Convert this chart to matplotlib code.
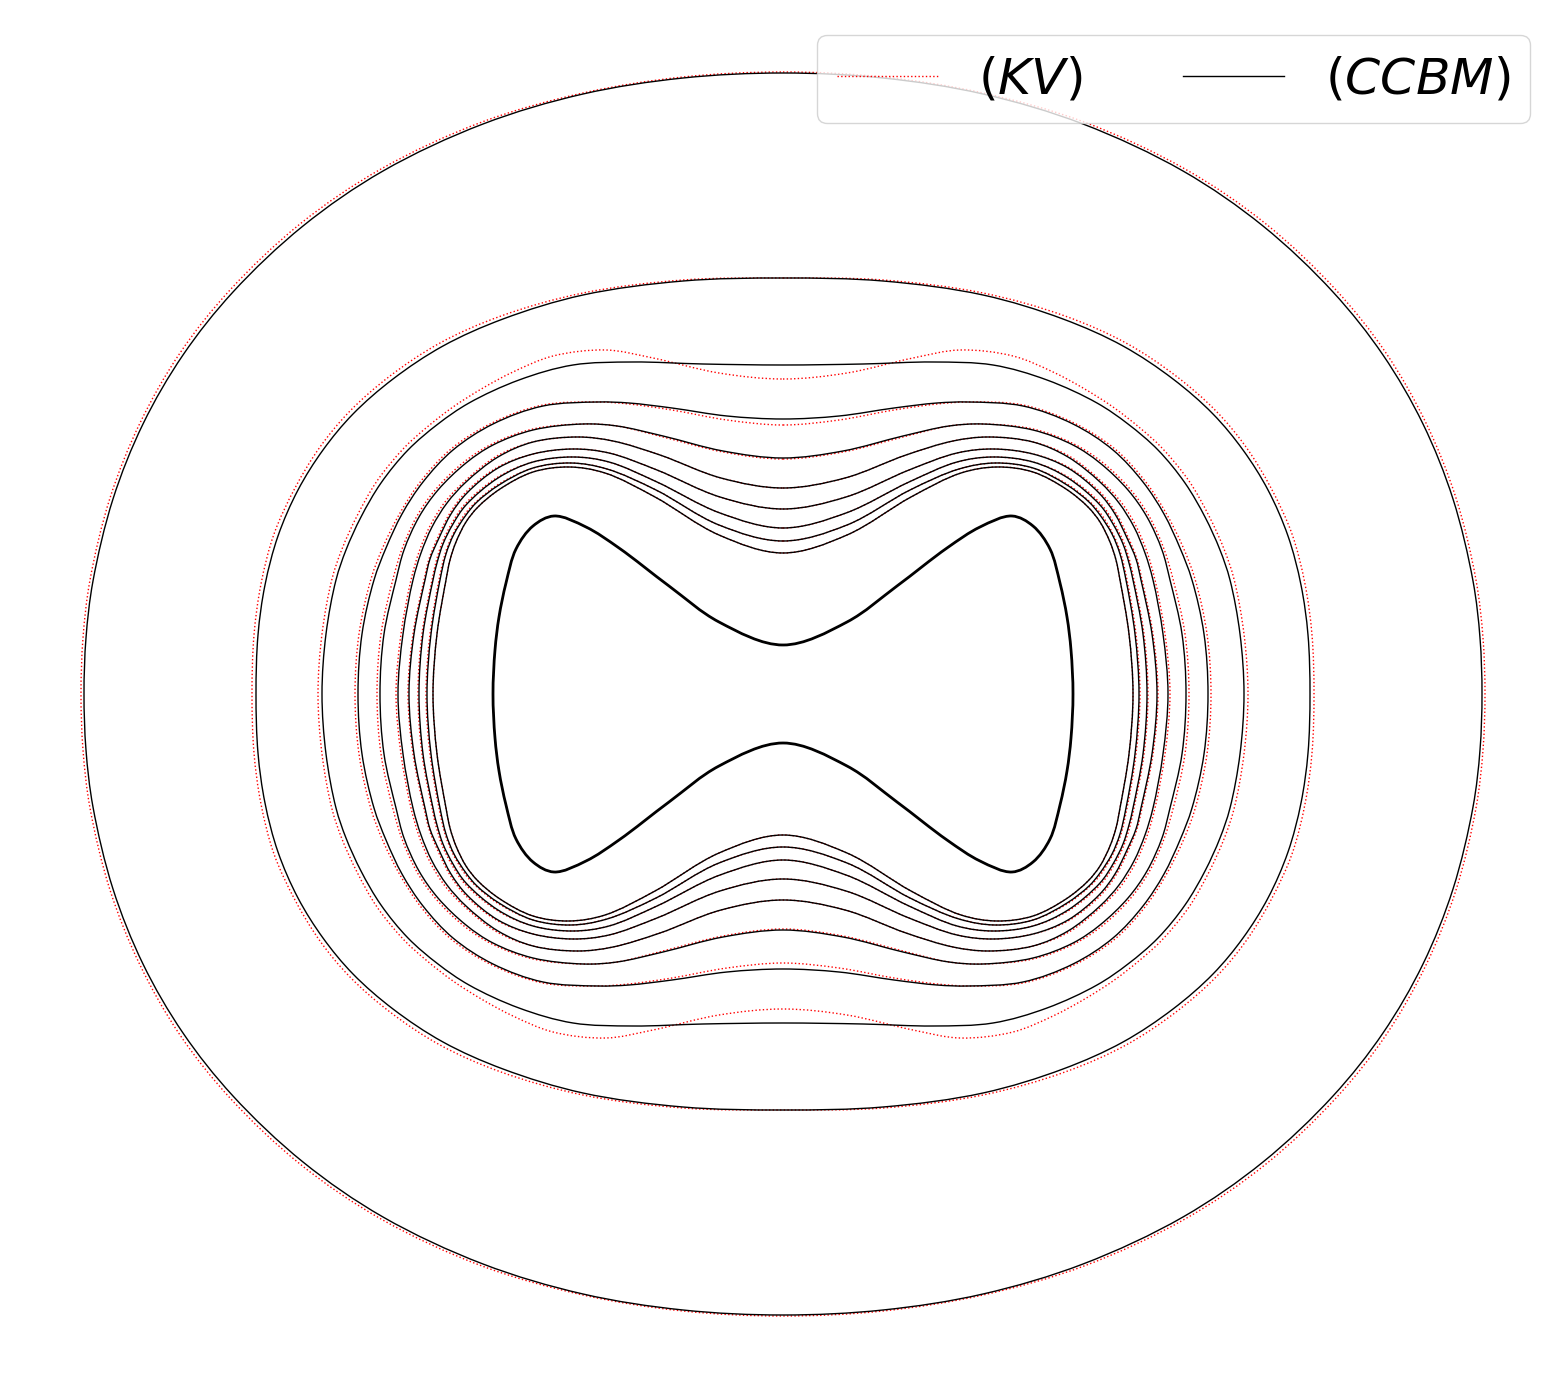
import numpy as np
import matplotlib
matplotlib.use("Agg")
import matplotlib.pyplot as plt
from matplotlib.path import Path
from matplotlib.patches import PathPatch
from matplotlib.lines import Line2D

# ---- data: upper-right quadrant of each closed curve (x, y), from top-centre to right-centre
# curves are symmetric about both axes (pixel-like units, centre at 0,0)

INITIAL = [(0, 49), (64, 72), (114, 108), (164, 146), (197, 167), (229, 178), (250, 168),
           (267, 145), (277, 111), (284, 77), (288, 44), (290, 0)]

CCBM_1 = [(0, 621), (100, 616), (200, 600), (300, 570), (400, 523), (480, 468), (550, 402),
          (600, 339), (640, 270), (670, 195), (690, 113), (697, 56), (699, 0)]
CCBM_2 = [(0, 416), (100, 413), (200, 399), (280, 375), (340, 348), (390, 315), (430, 280),
          (460, 244), (485, 204), (505, 158), (518, 109), (525, 59), (527, 0)]
CCBM_3 = [(0, 329), (80, 330), (150, 332), (210, 329), (264, 314), (314, 291), (345, 270),
          (375, 244), (402, 211), (422, 177), (437, 144), (447, 114), (457, 60), (461, 0)]
CCBM_4 = [(0, 275), (56, 278), (111, 286), (154, 291), (185, 292), (240, 288), (290, 270),
          (330, 244), (360, 212), (381, 180), (397, 146), (409, 114), (421, 60), (425, 0)]
CCBM_5 = [(0, 236), (60, 243), (120, 258), (166, 268), (200, 270), (250, 264), (290, 249),
          (317, 231), (345, 204), (364, 177), (379, 144), (387, 114), (399, 60), (403, 0)]
CCBM_6 = [(0, 206), (62, 216), (123, 239), (170, 253), (205, 257), (250, 252), (285, 237),
          (317, 212), (336, 191), (351, 167), (362, 141), (370, 114), (380, 60), (385, 0)]
CCBM_7 = [(0, 185), (63, 197), (126, 224), (174, 241), (210, 245), (250, 240), (285, 226),
          (316, 201), (332, 180), (344, 156), (353, 135), (358, 114), (369, 60), (374, 0)]
CCBM_8 = [(0, 166), (63, 181), (126, 212), (174, 232), (210, 237), (250, 232), (285, 216),
          (317, 189), (330, 170), (340, 150), (346, 131), (350, 114), (360, 60), (364, 0)]
CCBM_9 = [(0, 153), (64, 169), (127, 204), (176, 225), (212, 231), (250, 226), (284, 209),
          (306, 192), (317, 179), (329, 160), (337, 140), (343, 114), (352, 60), (356, 0)]
CCBM_10 = [(0, 141), (64, 159), (128, 197), (178, 221), (214, 227), (250, 222), (283, 205),
           (305, 187), (317, 172), (327, 152), (333, 134), (337, 114), (346, 60), (350, 0)]

KV_1 = [(0, 622), (100, 617), (200, 601), (301, 572), (402, 525), (483, 470), (553, 404),
        (603, 341), (643, 271), (673, 196), (693, 114), (700, 56), (702, 0)]
KV_2 = [(0, 416), (100, 414), (200, 401), (282, 378), (343, 351), (393, 318), (433, 283),
        (463, 247), (488, 206), (509, 160), (522, 110), (529, 59), (531, 0)]
KV_3 = [(0, 315), (64, 321), (130, 336), (177, 344), (230, 338), (270, 322), (300, 306),
        (330, 287), (357, 266), (379, 246), (406, 213), (426, 178), (441, 145), (451, 115),
        (461, 60), (465, 0)]
KV_4 = [(0, 269), (56, 274), (111, 284), (154, 290), (185, 292), (240, 289), (291, 271),
        (332, 245), (362, 213), (383, 181), (400, 147), (412, 115), (424, 60), (428, 0)]
KV_5 = [(0, 235), (60, 242), (120, 257), (166, 268), (200, 270), (250, 265), (291, 250),
        (319, 232), (347, 205), (366, 178), (381, 145), (390, 115), (402, 60), (406, 0)]
KV_6 = [(0, 206), (62, 216), (123, 239), (170, 253), (205, 257), (250, 252), (286, 238),
        (318, 213), (338, 192), (353, 168), (364, 142), (372, 114), (382, 60), (387, 0)]
KV_7 = [(0, 185), (63, 197), (126, 224), (174, 241), (210, 245), (250, 240), (285, 227),
        (317, 202), (333, 181), (345, 157), (354, 135), (359, 114), (370, 60), (375, 0)]
KV_8 = [(0, 166), (63, 181), (126, 212), (174, 232), (210, 237), (250, 232), (285, 217),
        (318, 190), (331, 171), (341, 151), (347, 132), (351, 114), (361, 60), (365, 0)]
KV_9 = [(0, 153), (64, 169), (127, 204), (176, 225), (212, 231), (250, 226), (284, 210),
        (306, 193), (318, 180), (330, 160), (338, 140), (344, 114), (353, 60), (357, 0)]
KV_10 = [(0, 141), (64, 159), (128, 197), (178, 221), (214, 227), (250, 222), (283, 205),
         (305, 187), (317, 172), (327, 152), (333, 134), (337, 114), (346, 60), (350, 0)]

KV_CURVES = [KV_1, KV_2, KV_3, KV_4, KV_5, KV_6, KV_7, KV_8, KV_9, KV_10, INITIAL]
CCBM_CURVES = [CCBM_1, CCBM_2, CCBM_3, CCBM_4, CCBM_5, CCBM_6, CCBM_7, CCBM_8, CCBM_9, CCBM_10]
LABELS = ["$(KV)$", "$(CCBM)$"]


def full_loop(q):
    q = np.asarray(q, float)
    tr = q
    br = q[-2::-1] * [1, -1]
    bl = q[1:] * [-1, -1]
    tl = q[-2:0:-1] * [-1, 1]
    return np.vstack([tr, br, bl, tl])


def smooth_closed_path(P, alpha=0.5):
    N = len(P)
    verts = [P[0]]
    codes = [Path.MOVETO]
    for i in range(N):
        p0, p1, p2, p3 = P[i - 1], P[i], P[(i + 1) % N], P[(i + 2) % N]
        d1 = max(np.linalg.norm(p1 - p0) ** alpha, 1e-9)
        d2 = max(np.linalg.norm(p2 - p1) ** alpha, 1e-9)
        d3 = max(np.linalg.norm(p3 - p2) ** alpha, 1e-9)
        b1 = (d1 ** 2 * p2 - d2 ** 2 * p0 + (2 * d1 ** 2 + 3 * d1 * d2 + d2 ** 2) * p1) / (3 * d1 * (d1 + d2))
        b2 = (d3 ** 2 * p1 - d2 ** 2 * p3 + (2 * d3 ** 2 + 3 * d3 * d2 + d2 ** 2) * p2) / (3 * d3 * (d3 + d2))
        verts += [b1, b2, p2]
        codes += [Path.CURVE4] * 3
    return Path(np.array(verts), codes)


W, H = 1566, 1389
fig = plt.figure(figsize=(W / 100, H / 100), dpi=100)
ax = fig.add_axes([0, 0, 1, 1])
cx, cy = 783, 694
ax.set_xlim(-cx, W - cx)
ax.set_ylim(cy - H, cy)
ax.axis("off")

for q in KV_CURVES:
    P = full_loop(q)
    ax.add_patch(PathPatch(smooth_closed_path(P), fill=False, edgecolor="red",
                           linestyle=":", linewidth=1.0, zorder=2))

for q in CCBM_CURVES:
    P = full_loop(q)
    ax.add_patch(PathPatch(smooth_closed_path(P), fill=False, edgecolor="black",
                           linestyle="-", linewidth=1.0, zorder=3))

P = full_loop(INITIAL)
ax.add_patch(PathPatch(smooth_closed_path(P), fill=False, edgecolor="black",
                       linestyle="-", linewidth=2.0, zorder=4))

handles = [Line2D([], [], color="red", linestyle=":", linewidth=1.0),
           Line2D([], [], color="black", linestyle="-", linewidth=1.0)]
ax.legend(handles, LABELS, loc="upper right", ncol=2, fontsize=36.3,
          bbox_to_anchor=(1530 / W, 1 - 35 / H), bbox_transform=fig.transFigure,
          borderaxespad=0)

fig.savefig("out.png", dpi=100)
